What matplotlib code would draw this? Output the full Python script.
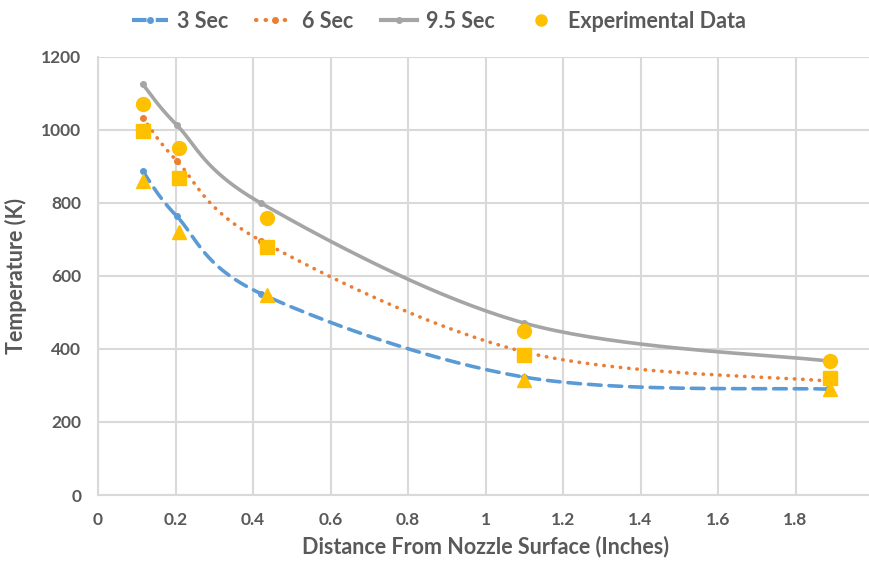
import matplotlib.pyplot as plt
import numpy as np

# simulation curves
sim_x = [0.115, 0.203, 0.42, 1.1, 1.885]
sec3 = [888, 764, 552, 323, 290]
sec6 = [1034, 916, 697, 392, 312]
sec95 = [1126, 1014, 800, 471, 367]

# experimental points
exp_x = [0.115, 0.21, 0.435, 1.1, 1.89]
exp_circle = [1071, 951, 759, 449, 366]
exp_square = [997, 868, 679, 384, 321]
exp_triangle = [861, 721, 548, 315, 290]

labels = ["3 Sec", "6 Sec", "9.5 Sec", "Experimental Data"]

BLUE = "#5B9BD5"
ORANGE = "#ED7D31"
GRAY = "#A5A5A5"
YELLOW = "#FFC000"
TEXT = "#595959"
GRID = "#D9D9D9"

plt.rcParams['font.family'] = ['Lato', 'DejaVu Sans']


def smooth(xs, ys, n=40):
    # Excel-style smoothed line: cubic Bezier with Catmull-Rom control points
    p = np.column_stack([xs, ys]).astype(float)
    ext = np.vstack([p[0], p, p[-1]])
    out = []
    t = np.linspace(0, 1, n)[:, None]
    for i in range(len(p) - 1):
        p0, p3 = p[i], p[i + 1]
        c1 = p0 + (ext[i + 2] - ext[i]) / 6
        c2 = p3 - (ext[i + 3] - ext[i + 1]) / 6
        seg = ((1 - t) ** 3) * p0 + 3 * ((1 - t) ** 2) * t * c1 + 3 * (1 - t) * t ** 2 * c2 + t ** 3 * p3
        out.append(seg if i == 0 else seg[1:])
    out = np.vstack(out)
    return out[:, 0], out[:, 1]


fig = plt.figure(figsize=(8.69, 5.64), dpi=100)
ax = fig.add_axes([98 / 869, 1 - 495 / 564, (873 - 98) / 869, (495 - 57) / 564])

for ys, color, ls in [(sec3, BLUE, (0, (3.5, 2.2))),
                      (sec6, ORANGE, (0, (0.1, 2.2))),
                      (sec95, GRAY, '-')]:
    sx, sy = smooth(sim_x, ys)
    ax.plot(sx, sy, color=color, lw=2.6, ls=ls, dash_capstyle='round', zorder=3)
    ax.plot(sim_x, ys, 'o', color=color, ms=4, zorder=3)

ax.plot(exp_x, exp_circle, 'o', color=YELLOW, ms=10, zorder=4)
ax.plot(exp_x, exp_square, 's', color=YELLOW, ms=9.5, zorder=4)
ax.plot(exp_x, exp_triangle, '^', color=YELLOW, ms=10.5, zorder=4)

ax.set_xlim(0, 2)
ax.set_ylim(0, 1200)
ax.set_xticks(np.arange(0, 2.01, 0.2))
ax.set_xticklabels(["0", "0.2", "0.4", "0.6", "0.8", "1", "1.2", "1.4", "1.6", "1.8", "2"])
ax.set_yticks(np.arange(0, 1201, 200))
ax.grid(True, color=GRID, lw=1.5, zorder=0)
ax.set_axisbelow(True)
for s in ["top", "right"]:
    ax.spines[s].set_visible(False)
for s in ["left", "bottom"]:
    ax.spines[s].set_color(GRID)
    ax.spines[s].set_linewidth(1.5)
ax.tick_params(length=0, labelsize=12.5, colors=TEXT, pad=12)
for lbl in ax.get_xticklabels() + ax.get_yticklabels():
    lbl.set_fontweight('bold')

ax.set_xlabel("Distance From Nozzle Surface (Inches)", fontsize=15.5, fontweight='bold', color=TEXT, labelpad=6)
ax.set_ylabel("Temperature (K)", fontsize=15.5, fontweight='bold', color=TEXT, labelpad=10)

handles = [
    plt.Line2D([], [], color=BLUE, lw=3, ls=(0, (3.5, 2.2)), marker='o', ms=4),
    plt.Line2D([], [], color=ORANGE, lw=3, ls=(0, (0.1, 2.2)), dash_capstyle='round', marker='o', ms=4),
    plt.Line2D([], [], color=GRAY, lw=3, marker='o', ms=4),
    plt.Line2D([], [], color=YELLOW, ls='none', marker='o', ms=8),
]
leg = fig.legend(handles, labels, loc='upper center', bbox_to_anchor=(0.505, 1.015), ncol=4,
                 frameon=False, fontsize=15.5, handlelength=1.7, columnspacing=1.3, handletextpad=0.4)
for t in leg.get_texts():
    t.set_color(TEXT)
    t.set_fontweight('bold')

fig.savefig("out.png", dpi=100)
